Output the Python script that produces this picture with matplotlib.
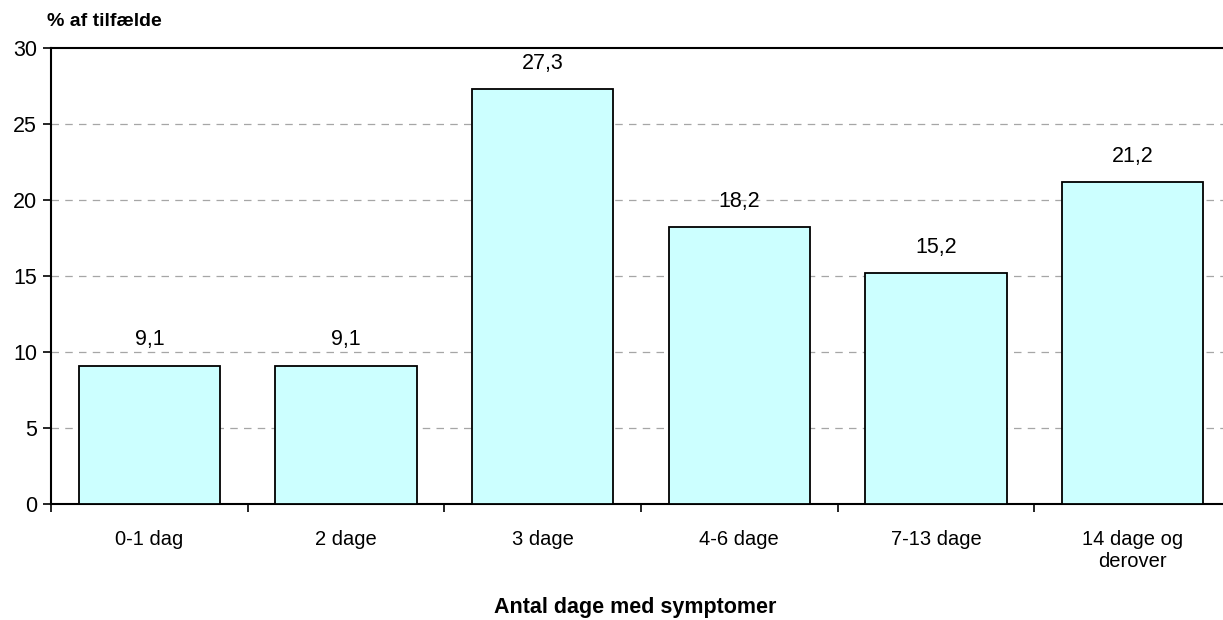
import numpy as np
from matplotlib import pyplot as plt
from matplotlib.ticker import FixedLocator

plt.rcParams['font.family'] = ['Liberation Sans', 'DejaVu Sans']

categories = ["0-1 dag", "2 dage", "3 dage", "4-6 dage", "7-13 dage", "14 dage og\nderover"]
values = [9.1, 9.1, 27.3, 18.2, 15.2, 21.2]
value_labels = ["9,1", "9,1", "27,3", "18,2", "15,2", "21,2"]

fig = plt.figure(figsize=(12.23, 6.2), dpi=100)
# axes run slightly past the right edge, like the original
ax = fig.add_axes([51/1223, 1 - 504/620, 1180/1223, 456/620])

x = np.arange(len(categories))
ax.bar(x, values, width=0.72, color="#CCFFFF", edgecolor="black", linewidth=1.3, zorder=3)

for xi, v, lab in zip(x, values, value_labels):
    ax.text(xi, v + 1.0, lab, ha="center", va="bottom", fontsize=15.5)

ax.set_xlim(-0.5, len(categories) - 0.5)
ax.set_ylim(0, 30)
ax.set_yticks(range(0, 31, 5))
ax.tick_params(axis="y", labelsize=15.5, length=6, width=1.2, pad=4)

ax.set_xticks(x)
ax.set_xticklabels(categories, fontsize=14.5, linespacing=1.15)
ax.xaxis.set_minor_locator(FixedLocator(np.arange(-0.5, len(categories), 1)))
ax.tick_params(axis="x", which="major", length=0, pad=19)
ax.tick_params(axis="x", which="minor", length=6, width=1.2)

for yv in range(5, 30, 5):
    ax.axhline(yv, color="#a6a6a6", linestyle=(0, (6, 5)), linewidth=0.9, zorder=1)

ax.spines["right"].set_visible(False)
for s in ["left", "bottom", "top"]:
    ax.spines[s].set_linewidth(1.5)

fig.text(47/1223, 1 - 22/620, "% af tilfælde", fontsize=14, fontweight="bold", va="center", ha="left")
fig.text(635/1223, 1 - 608/620, "Antal dage med symptomer", fontsize=15.5, fontweight="bold",
         va="center", ha="center")

plt.savefig("out.png", dpi=100)
plt.close()
